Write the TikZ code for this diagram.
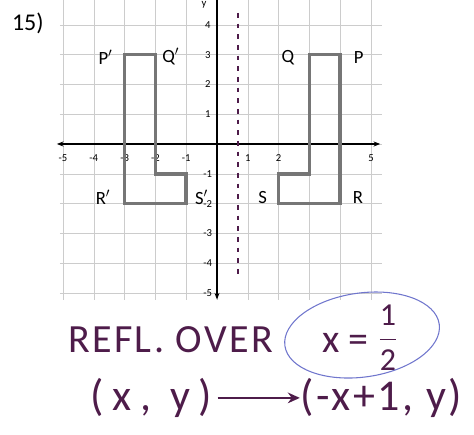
\documentclass[tikz,border=0pt]{standalone}
\usepackage{fontspec}
\setmainfont{Carlito}
\usepackage{amsmath}
\usetikzlibrary{arrows.meta,positioning}
\definecolor{inkpurple}{RGB}{78,28,74}
\definecolor{circblue}{RGB}{112,118,205}
\definecolor{figgray}{RGB}{118,118,118}

\begin{document}
\begin{tikzpicture}[x=23.1pt,y=22.35pt,>=Stealth,
  gridline/.style={gray!40,line width=0.4pt},
  axisline/.style={black,line width=0.9pt,{Stealth[length=5pt]}-{Stealth[length=5pt]}},
  figline/.style={figgray,line width=2.8pt,line join=miter},
  ticklbl/.style={font=\fontsize{8}{8}\selectfont,inner sep=0.5pt},
  ptlbl/.style={font=\fontsize{14}{14}\selectfont,inner sep=0pt},
  ink/.style={inkpurple,font=\fontsize{30}{30}\selectfont,inner sep=0pt}]
  \useasboundingbox (-7.045,-9.765) rectangle (8.344,4.832);
  % grid and axes
  \foreach \gx in {-5,...,5} \draw[gridline] (\gx,-5.23) -- (\gx,5);
  \foreach \gy in {-5,...,4} \draw[gridline] (-5.1,\gy) -- (5.36,\gy);
  \draw[axisline] (-5.2,0) -- (5.3,0);
  \draw[axisline] (0,-5.22) -- (0,5.3);
  \node[ticklbl] (ylbl) at (-0.42,4.68) {y};
  \foreach \gx in {-5,-4,-3,-2,-1,1,2,5}
    \node[ticklbl] (tx\gx) at (\gx,-0.47) {\gx};
  \foreach \gy in {-5,-4,-3,-2,-1,1,2,3,4}
    \node[ticklbl] (ty\gy) at (-0.3,\gy) {\gy};
  \node[font=\fontsize{18}{18}\selectfont] (num) at (-6.14,4.06) {15)};
  % line of reflection (hand drawn)
  \draw[inkpurple,line width=1.6pt,dash pattern=on 3.5pt off 4.5pt] (0.68,4.4) -- (0.68,-4.5);
  % original figure PQRS
  \coordinate (P) at (4,3);
  \coordinate (Q) at (3,3);
  \coordinate (R) at (4,-2);
  \coordinate (S) at (2,-2);
  \draw[figline] (Q) -- (P) -- (R) -- (S) -- (2,-1) -- (3,-1) -- cycle;
  % image P'Q'R'S'
  \coordinate (P') at (-3,3);
  \coordinate (Q') at (-2,3);
  \coordinate (R') at (-3,-2);
  \coordinate (S') at (-1,-2);
  \draw[figline] (P') -- (Q') -- (-2,-1) -- (-1,-1) -- (S') -- (R') -- cycle;
  \node[ptlbl] (lp) at (4.6,2.9) {P};
  \node[ptlbl] (lq) at (2.3,2.9) {Q};
  \node[ptlbl] (lr) at (4.58,-1.8) {R};
  \node[ptlbl] (ls) at (1.48,-1.8) {S};
  \node[ptlbl] (lp') at (-3.62,2.92) {P$'$};
  \node[ptlbl] (lq') at (-1.5,2.92) {Q$'$};
  \node[ptlbl] (lr') at (-3.7,-1.8) {R$'$};
  \node[ptlbl] (ls') at (-0.5,-1.8) {S$'$};
  % rule written below
  \node[ink,anchor=base west] (refl) at (-4.84,-6.98) {\addfontfeatures{LetterSpace=6}REFL. OVER};
  \node[ink,anchor=base west] (xeq) at (3.41,-6.98) {x =};
  \node[ink,font=\fontsize{24}{24}\selectfont] (half) at (5.55,-6.5) {$\displaystyle\frac{\text{1}}{\text{2}}$};
  \draw[circblue,line width=0.8pt,rotate around={8:(4.71,-6.41)}] (4.71,-6.41) ellipse (2.53 and 1.41);
  \node[ink,font=\fontsize{33}{33}\selectfont,anchor=west] (from) at (-4.12,-8.52) {\addfontfeatures{LetterSpace=20}(x, y)};
  \node[ink,font=\fontsize{33}{33}\selectfont,anchor=west] (to) at (2.69,-8.52) {\addfontfeatures{LetterSpace=6}(-x+1, y)};
  \draw[inkpurple,line width=1.6pt,-{Stealth[length=9pt,width=8pt]},shorten <=4pt] (from.east) -- (to.west);
\end{tikzpicture}
\end{document}
